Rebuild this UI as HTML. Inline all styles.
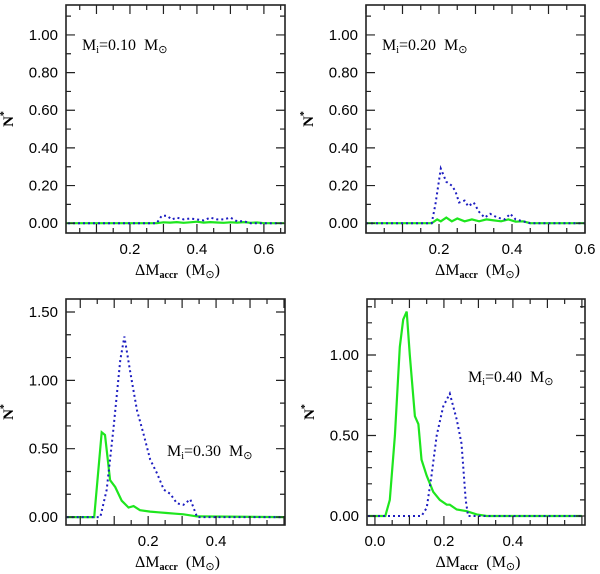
<!DOCTYPE html>
<html><head><meta charset="utf-8"><style>
html,body{margin:0;padding:0;background:#fff;width:600px;height:574px;overflow:hidden}
svg text{font-family:"Liberation Sans",sans-serif;fill:#000;white-space:pre}
</style></head><body>
<svg id="fig" width="600" height="574" viewBox="0 0 600 574" xmlns="http://www.w3.org/2000/svg"></svg>
<script>
// Panel A: Mi=0.10
const xA_green=[0,0.28,0.30,0.32,0.34,0.36,0.38,0.40,0.42,0.44,0.46,0.48,0.50,0.52,0.54,0.56,0.58,0.60,0.66];
const yA_green=[0,0,0.005,0.003,0.006,0.002,0.005,0.008,0.003,0.006,0.004,0.002,0.005,0.003,0.006,0.002,0.004,0,0];
const xA_blue=[0,0.28,0.295,0.31,0.325,0.34,0.36,0.38,0.40,0.42,0.44,0.46,0.48,0.50,0.52,0.54,0.56,0.66];
const yA_blue=[0,0,0.04,0.04,0.02,0.03,0.02,0.025,0.02,0.015,0.03,0.02,0.02,0.03,0.01,0.01,0,0];
// Panel B: Mi=0.20
const xB_green=[0,0.18,0.195,0.205,0.22,0.235,0.25,0.27,0.29,0.31,0.33,0.35,0.37,0.39,0.41,0.43,0.45,0.47,0.6];
const yB_green=[0,0,0.02,0.01,0.03,0.01,0.025,0.01,0.02,0.01,0.02,0.015,0.01,0.02,0.008,0.01,0,0,0];
const xB_blue=[0,0.18,0.19,0.205,0.22,0.235,0.245,0.255,0.27,0.28,0.295,0.31,0.325,0.34,0.36,0.38,0.395,0.41,0.43,0.45,0.6];
const yB_blue=[0,0,0.1,0.29,0.22,0.2,0.17,0.11,0.12,0.09,0.11,0.06,0.03,0.05,0.03,0.02,0.05,0.02,0.01,0,0];
// Panel C: Mi=0.30
const xC_green=[-0.04,0.041,0.063,0.073,0.088,0.103,0.122,0.142,0.157,0.176,0.206,0.23,0.255,0.28,0.304,0.344,0.6];
const yC_green=[0,0,0.62,0.6,0.27,0.22,0.12,0.07,0.08,0.05,0.04,0.035,0.03,0.025,0.02,0.005,0];
const xC_blue=[-0.04,0.059,0.078,0.098,0.118,0.13,0.148,0.167,0.187,0.206,0.226,0.246,0.265,0.285,0.304,0.324,0.344,0.6];
const yC_blue=[0,0,0.2,0.65,1.15,1.32,1.05,0.78,0.6,0.42,0.32,0.2,0.17,0.1,0.09,0.13,0,0];
// Panel D: Mi=0.40
const xD_green=[-0.02,0.03,0.043,0.058,0.072,0.082,0.092,0.101,0.116,0.126,0.135,0.15,0.169,0.188,0.208,0.217,0.237,0.266,0.295,0.324,0.6];
const yD_green=[0,0,0.1,0.5,1.05,1.22,1.27,1.0,0.62,0.57,0.35,0.25,0.15,0.1,0.07,0.07,0.04,0.03,0.01,0,0];
const xD_blue=[-0.02,0.135,0.15,0.164,0.179,0.198,0.217,0.237,0.251,0.263,0.27,0.6];
const yD_blue=[0,0,0.05,0.25,0.5,0.68,0.76,0.6,0.45,0.1,0,0];

const panels=[
 {name:'panel-mi-010',px0:66,px1:285,py0:5,py1:233,x0:0.009,x1:0.663,y0:-0.052,y1:1.159,
  xt:[0.2,0.4,0.6],xl:['0.2','0.4','0.6'],xm:0.05,yt:[0,0.2,0.4,0.6,0.8,1.0],yl:['0.00','0.20','0.40','0.60','0.80','1.00'],ym:0.1,
  g:[xA_green,yA_green],b:[xA_blue,yA_blue],label:'0.10',lx:82,ly:50},
 {name:'panel-mi-020',px0:366,px1:585,py0:5,py1:233,x0:0.0,x1:0.6,y0:-0.052,y1:1.159,
  xt:[0.2,0.4,0.6],xl:['0.2','0.4','0.6'],xm:0.05,yt:[0,0.2,0.4,0.6,0.8,1.0],yl:['0.00','0.20','0.40','0.60','0.80','1.00'],ym:0.1,
  g:[xB_green,yB_green],b:[xB_blue,yB_blue],label:'0.20',lx:382,ly:50},
 {name:'panel-mi-030',px0:66,px1:285,py0:299,py1:525,x0:-0.042,x1:0.603,y0:-0.058,y1:1.595,
  xt:[0.2,0.4],xl:['0.2','0.4'],xm:0.05,yt:[0,0.5,1.0,1.5],yl:['0.00','0.50','1.00','1.50'],ym:0.5/3,
  g:[xC_green,yC_green],b:[xC_blue,yC_blue],label:'0.30',lx:167,ly:456},
 {name:'panel-mi-040',px0:367,px1:585,py0:299,py1:525,x0:-0.023,x1:0.609,y0:-0.056,y1:1.348,
  xt:[0,0.2,0.4],xl:['0.0','0.2','0.4'],xm:0.05,yt:[0,0.5,1.0],yl:['0.00','0.50','1.00'],ym:0.1,
  g:[xD_green,yD_green],b:[xD_blue,yD_blue],label:'0.40',lx:468,ly:382}
];
const NS='http://www.w3.org/2000/svg';
const svg=document.getElementById('fig');
function mk(tag,attrs,parent){const e=document.createElementNS(NS,tag);for(const k in attrs)e.setAttribute(k,attrs[k]);(parent||svg).appendChild(e);return e;}
panels.forEach(p=>{
 const g=mk('g',{});
 
 
 const sx=v=>p.px0+(v-p.x0)/(p.x1-p.x0)*(p.px1-p.px0);
 const sy=v=>p.py1-(v-p.y0)/(p.y1-p.y0)*(p.py1-p.py0);
 const cid='c'+p.name;
 const cp=mk('clipPath',{id:cid},g);mk('rect',{x:p.px0,y:p.py0,width:p.px1-p.px0,height:p.py1-p.py0},cp);
 const path=(xs,ys)=>xs.map((x,i)=>(i?'L':'M')+sx(x).toFixed(1)+','+sy(ys[i]).toFixed(1)).join('');
 const gl=mk('path',{d:path(p.g[0],p.g[1]),fill:'none',stroke:'#1ee61e','stroke-width':2.2,'clip-path':'url(#'+cid+')'},g);
 
 
 const bl=mk('path',{d:path(p.b[0],p.b[1]),fill:'none',stroke:'#1c1cc0','stroke-width':2,'stroke-dasharray':'2,3','clip-path':'url(#'+cid+')'},g);
 
 
 const fr=mk('rect',{x:p.px0,y:p.py0,width:p.px1-p.px0,height:p.py1-p.py0,fill:'none',stroke:'#222','stroke-width':1.6},g);
 
 
 let t='';
 const xs0=Math.ceil(p.x0/p.xm-1e-6);
 for(let k=xs0;k*p.xm<=p.x1+1e-9;k++){const v=k*p.xm;const X=sx(v);const major=p.xt.some(m=>Math.abs(m-v)<1e-6)||Math.abs(Math.round(v/0.1)*0.1-v)<1e-6;const L=major?9:5;
  t+=`M${X},${p.py1}v${-L}M${X},${p.py0}v${L}`;}
 const ys0=Math.ceil(p.y0/p.ym-1e-6);
 for(let k=ys0;k*p.ym<=p.y1+1e-9;k++){const v=k*p.ym;const Y=sy(v);const major=p.yt.some(m=>Math.abs(m-v)<1e-6);const L=major?9:5;
  t+=`M${p.px0},${Y}h${L}M${p.px1},${Y}h${-L}`;}
 mk('path',{d:t,stroke:'#222','stroke-width':1.2,fill:'none'},g);
 p.xt.forEach((v,i)=>{const e=mk('text',{x:sx(v),y:p.py1+21,'text-anchor':'middle','font-size':15},g);e.textContent=p.xl[i];
  
  });
 p.yt.forEach((v,i)=>{const e=mk('text',{x:p.px0-8,y:sy(v)+5,'text-anchor':'end','font-size':15},g);e.textContent=p.yl[i];
  
  });
 const cx=(p.px0+p.px1)/2, cy=(p.py0+p.py1)/2;
 const yt=mk('text',{x:0,y:0,transform:`translate(${p.px0-53},${cy}) rotate(-90)`,'text-anchor':'middle','font-size':15,style:'font-family:"Liberation Serif",serif;font-weight:bold'},g);
 yt.innerHTML='N<tspan dy="-6" font-size="10">*</tspan>';
 
 
 const xt=mk('text',{x:cx+2,y:p.py1+42,'text-anchor':'middle','font-size':16,style:'font-family:"Liberation Serif",serif'},g);
 xt.innerHTML='ΔM<tspan dy="3" font-size="10" font-weight="bold">accr</tspan><tspan dy="-3">\u00a0\u00a0(M</tspan><tspan dy="3" font-size="11">⊙</tspan><tspan dy="-3">)</tspan>';
 
 
 const lb=mk('text',{x:p.lx,y:p.ly,'font-size':16,style:'font-family:"Liberation Serif",serif'},g);
 lb.innerHTML='M<tspan dy="3" font-size="10">i</tspan><tspan dy="-3">=0.'+p.label.slice(2)+'\u00a0\u00a0M</tspan><tspan dy="3" font-size="11">⊙</tspan>';
 
 
});
</script>
</body></html>
